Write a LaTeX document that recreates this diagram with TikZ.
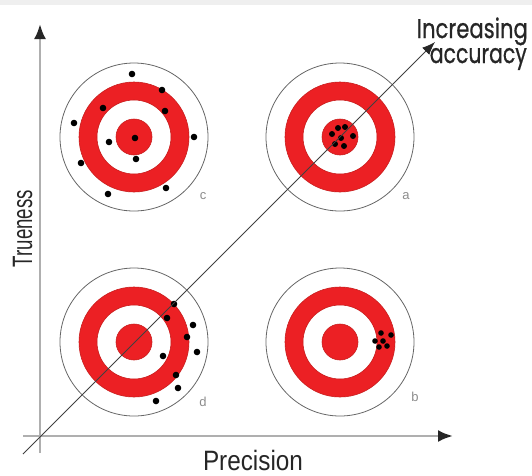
\documentclass[tikz,border=0pt]{standalone}
\usepackage{fontspec}
\setmainfont{Liberation Sans}
\newfontfamily\geofont[FakeBold=0.8]{Poppins}
\usetikzlibrary{arrows.meta}
\definecolor{tred}{RGB}{236,32,36}
\definecolor{tredline}{RGB}{200,30,30}
\definecolor{axisgray}{RGB}{175,175,175}
\definecolor{bandgray}{RGB}{239,239,239}
\tikzset{
  outerring/.style={draw=black!60, line width=0.8pt, fill=white},
  redpart/.style={fill=tred, draw=tredline, line width=0.6pt, even odd rule},
  hit/.style={fill=black},
  targetlabel/.style={text=black!45, font=\fontsize{13}{14}\selectfont, inner sep=0pt},
  axisline/.style={draw=axisgray, line width=2.6pt, -{Latex[length=15pt,width=12pt,color=black!85]}},
  diagline/.style={draw=black!75, line width=0.8pt, -{Latex[length=13pt,width=10pt,color=black!85]}},
  axislabel/.style={font=\fontsize{28}{30}\selectfont, text=black!85, inner sep=0pt},
  acclabel/.style={font=\geofont\fontsize{27}{29}\selectfont, text=black!85, inner sep=0pt}
}
\begin{document}
\begin{tikzpicture}[x=1pt,y=-1pt]
\useasboundingbox (0,0) rectangle (532,475);
\fill[bandgray] (0,0) rectangle (532,5);

% target centres
\coordinate (tc) at (134,137);
\coordinate (ta) at (340,137);
\coordinate (td) at (134,342);
\coordinate (tb) at (340,342);

\foreach \t in {tc,ta,td,tb}{
  \draw[outerring] (\t) circle[radius=74pt];
  \path[redpart] (\t) circle[radius=55pt] (\t) circle[radius=37pt];
  \path[redpart] (\t) circle[radius=18pt];
}

% hits: c
\foreach \p in {(132,74),(162,90),(103,108),(165,111),(74,123),(194,137),(109,142),(135,138),(136,159),(81,163),(166,188),(108,194)}
  \fill[hit] \p circle[radius=3.3pt];
% hits: a
\foreach \p in {(345,127),(332,134),(353,136),(341,138),(335,144),(344,146),(338,128)}
  \fill[hit] \p circle[radius=3pt];
% hits: d
\foreach \p in {(174,304),(167,318),(193,325),(187,337),(197,352),(163,356),(176,375),(178,388),(156,401)}
  \fill[hit] \p circle[radius=3.3pt];
% hits: b
\foreach \p in {(381,333),(391,335),(375,341),(383,341),(379,347),(387,346)}
  \fill[hit] \p circle[radius=2.8pt];

\node[targetlabel] (lc) at (203,196) {c};
\node[targetlabel] (la) at (406,196) {a};
\node[targetlabel] (ld) at (203,402) {d};
\node[targetlabel] (lb) at (415,397) {b};

% axes
\coordinate (xs) at (23,436);
\coordinate (xe) at (453,436);
\coordinate (ys) at (40,453);
\coordinate (ye) at (40,24);
\draw[axisline] (xs) -- (xe);
\draw[axisline] (ys) -- (ye);

% diagonal
\coordinate (ds) at (23,454);
\coordinate (de) at (435,42);
\draw[diagline] (ds) -- (de);

\node[axislabel, anchor=base] (prec) at (253,470) {\resizebox{100pt}{\height}{Precision}};
\node[axislabel, anchor=base, rotate=90] (true) at (32,228.5) {\resizebox{77pt}{\height}{Trueness}};
\node[acclabel, anchor=base east] (inc) at (528,38) {\resizebox{111pt}{\height}{Increasing}};
\node[acclabel, anchor=base east] (acc) at (527,63) {\resizebox{97pt}{\height}{accuracy}};
\end{tikzpicture}
\end{document}
